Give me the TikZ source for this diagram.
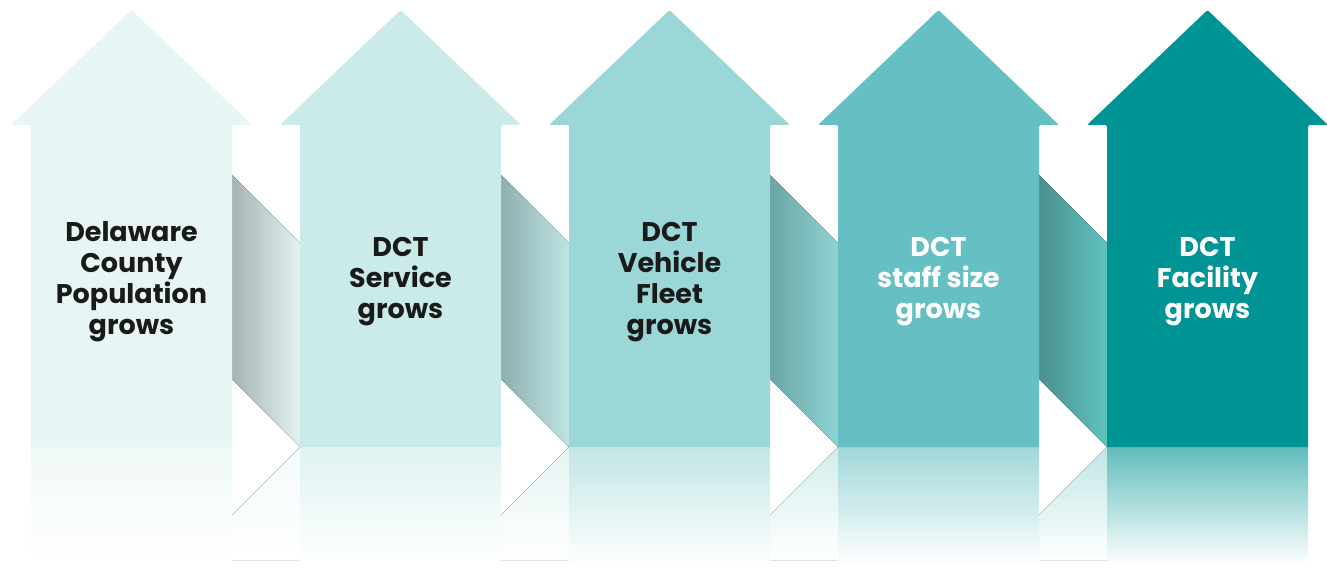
\documentclass[tikz,border=0pt]{standalone}
\usepackage{fontspec}
\setmainfont{Poppins}
\definecolor{aA}{HTML}{E8F5F5}
\definecolor{aB}{HTML}{CBEBEA}
\definecolor{aC}{HTML}{9BD7D7}
\definecolor{aD}{HTML}{66BFC2}
\definecolor{aE}{HTML}{019494}
\definecolor{cA}{HTML}{A5B3B3}
\definecolor{cB}{HTML}{8FAFAF}
\definecolor{cC}{HTML}{6BA5A5}
\definecolor{cD}{HTML}{4B9090}
\definecolor{dA}{HTML}{E2F2F2}
\definecolor{dB}{HTML}{BEE4E4}
\definecolor{dC}{HTML}{8FD3D3}
\definecolor{dD}{HTML}{5EC2BE}
\definecolor{txtdark}{HTML}{1A1A1A}
\tikzset{
  lbl/.style={align=center, font=\bfseries\fontsize{27}{31}\selectfont, inner sep=0pt},
}
\begin{document}
\begin{tikzpicture}[x=1pt,y=-1pt]
\useasboundingbox (0,0) rectangle (1327,583);
% connectors and their reflections
\foreach \n/\cl/\cr in {0/cA/dA,1/cB/dB,2/cC/dC,3/cD/dD}{
  \pgfmathsetmacro\dx{269*\n}
  \begin{scope}[xshift=\dx]
    \fill[left color=\cl, right color=\cr] (232,175) -- (300,243) -- (300,447) -- (232,379) -- cycle;
    \fill[top color=\cr!40!white, bottom color=white] (300,447) -- (232,515) -- (232,560) -- (300,560) -- cycle;
  \end{scope}
}
% arrows and reflections
\foreach \n/\c in {0/aA,1/aB,2/aC,3/aD,4/aE}{
  \pgfmathsetmacro\dx{269*\n}
  \begin{scope}[xshift=\dx]
    \fill[top color=\c!62!white, bottom color=white] (31,447) rectangle (232,565);
    \fill[\c, rounded corners=1.5pt] (31,447) -- (31,125) -- (11,125) -- (131.5,10) -- (252,125) -- (232,125) [sharp corners] -- (232,447) -- cycle;
  \end{scope}
}
\node[lbl, text=txtdark] (t1) at (131.5,282) {Delaware\\County\\Population\\grows};
\node[lbl, text=txtdark] (t2) at (400.5,282) {DCT\\Service\\grows};
\node[lbl, text=txtdark] (t3) at (669.5,282) {DCT\\Vehicle\\Fleet\\grows};
\node[lbl, text=white] (t4) at (938.5,282) {DCT\\staff size\\grows};
\node[lbl, text=white] (t5) at (1207.5,282) {DCT\\Facility\\grows};
\end{tikzpicture}
\end{document}
